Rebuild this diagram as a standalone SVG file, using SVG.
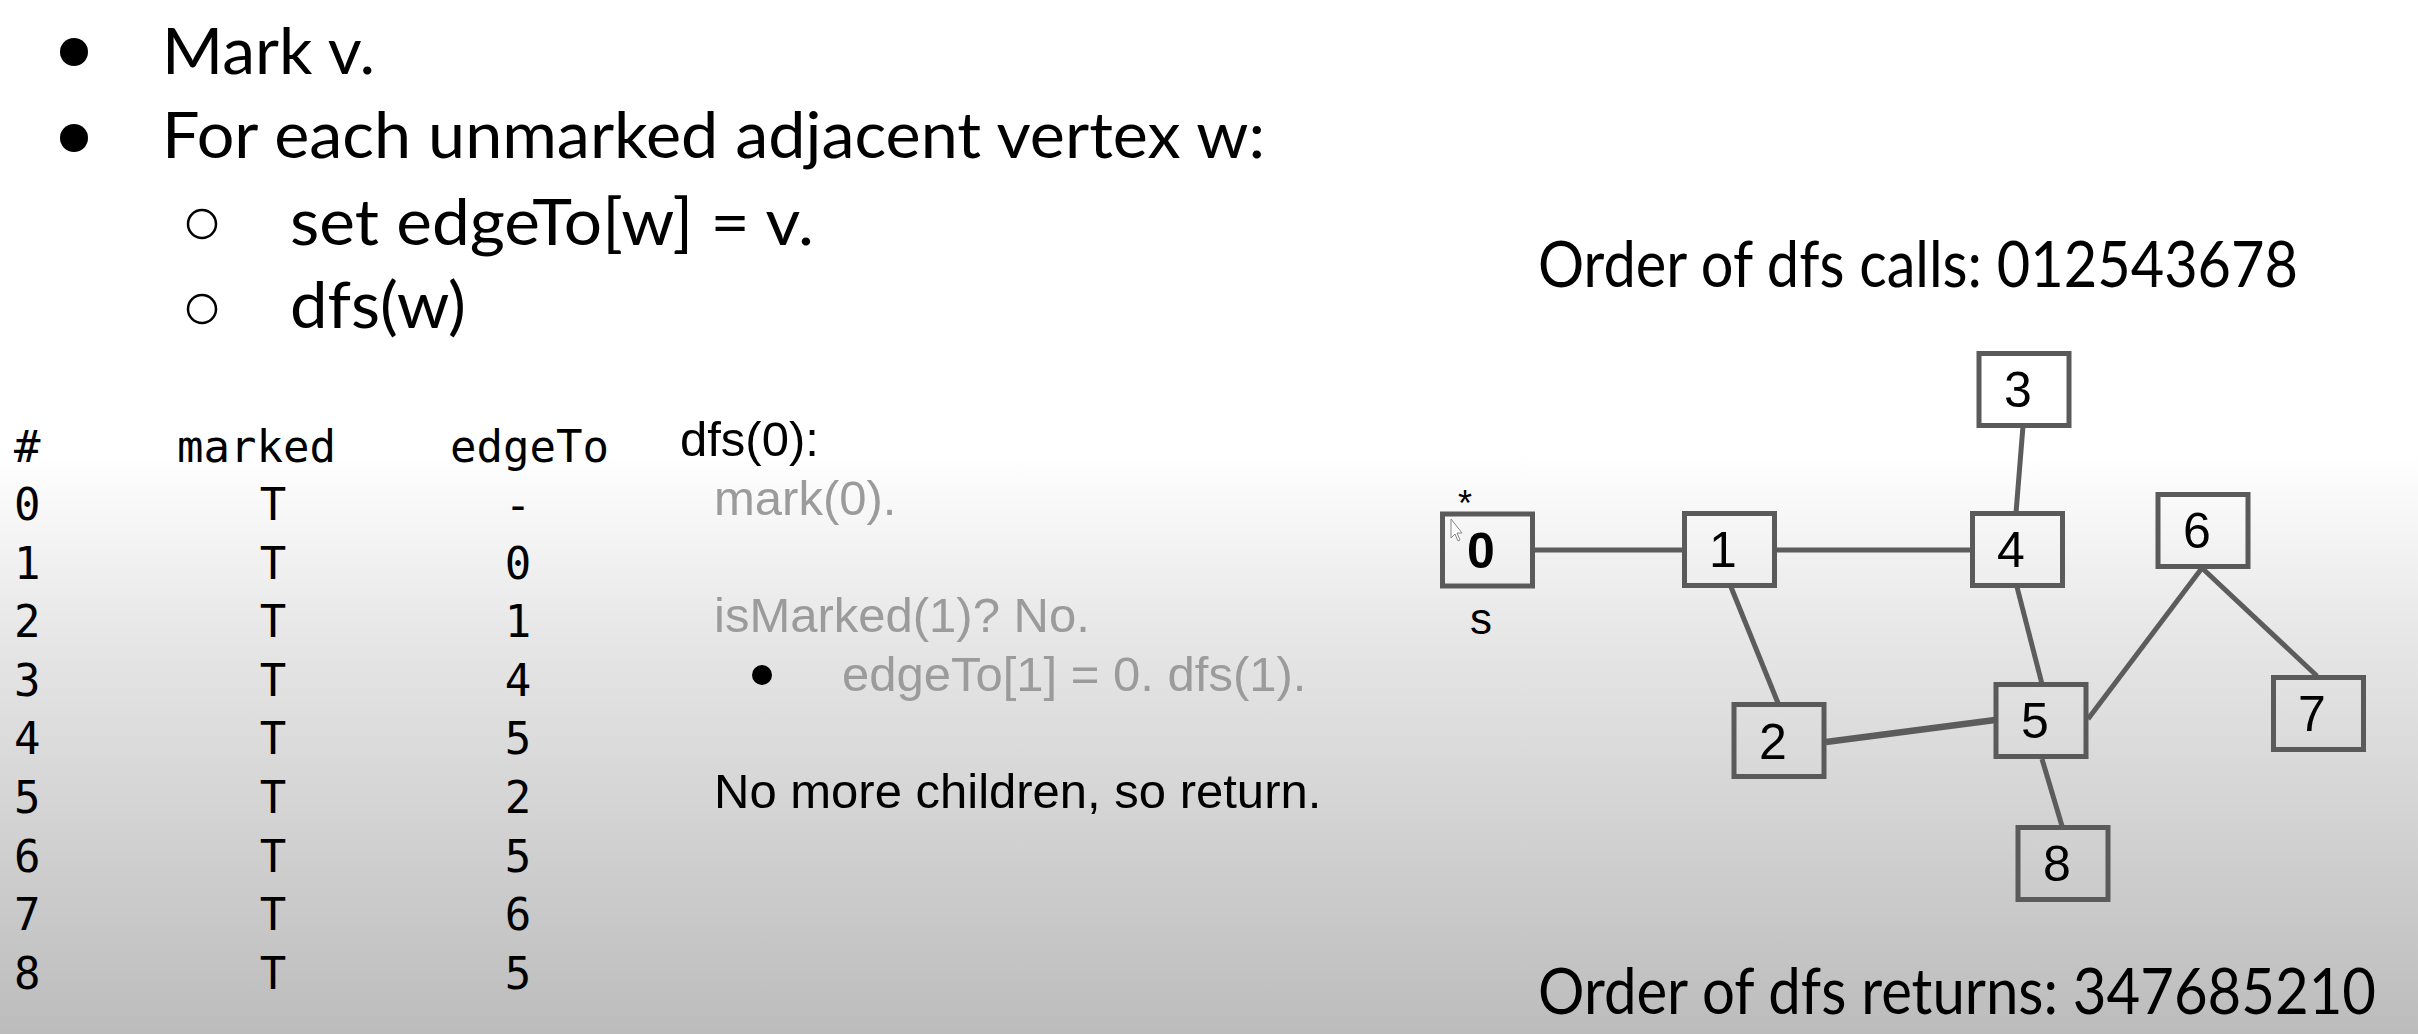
<svg xmlns="http://www.w3.org/2000/svg" width="2418" height="1034" viewBox="0 0 2418 1034">
<defs>
<linearGradient id="bg" x1="0" y1="0" x2="0" y2="1">
<stop offset="0" stop-color="#ffffff"/>
<stop offset="0.44" stop-color="#ffffff"/>
<stop offset="0.62" stop-color="#e6e6e6"/>
<stop offset="1" stop-color="#bcbcbc"/>
</linearGradient>
<style>
.cal{font-family:Lato,"Open Sans","Liberation Sans",sans-serif;font-size:63px;fill:#000}
.mono{font-family:"DejaVu Sans Mono","Liberation Mono",monospace;font-size:44px;fill:#000}
.ar{font-family:"Liberation Sans",Arial,sans-serif;font-size:49px}
.blk{fill:#000}
.gry{fill:#9b9b9b}
.box{fill:none;stroke:#5a5a5a;stroke-width:5}
.lbl{font-family:"Liberation Sans",Arial,sans-serif;font-size:50px;fill:#000;text-anchor:middle}
.edge{stroke:#5c5c5c;stroke-width:5;fill:none}
.mid{text-anchor:middle}
</style>
</defs>
<rect x="0" y="0" width="2418" height="1034" fill="url(#bg)"/>

<g id="pseudocode">
<circle cx="74" cy="52" r="14" fill="#000"/>
<text class="cal" x="162" y="74" textLength="213" lengthAdjust="spacingAndGlyphs">Mark v.</text>
<circle cx="74" cy="138" r="14" fill="#000"/>
<text class="cal" x="162" y="158" textLength="1103" lengthAdjust="spacingAndGlyphs">For each unmarked adjacent vertex w:</text>
<circle cx="202" cy="224" r="14" fill="none" stroke="#000" stroke-width="2.5"/>
<text class="cal" x="290" y="245" textLength="524" lengthAdjust="spacingAndGlyphs">set edgeTo[w] = v.</text>
<circle cx="202" cy="309" r="14" fill="none" stroke="#000" stroke-width="2.5"/>
<text class="cal" x="290" y="328" textLength="176" lengthAdjust="spacingAndGlyphs">dfs(w)</text>
</g>

<g id="table" class="mono">
<text x="14" y="462">#</text>
<text x="177" y="462">marked</text>
<text x="450" y="462">edgeTo</text>
<g>
<text x="14" y="520">0</text><text x="273" y="520" class="mid">T</text><text x="518" y="520" class="mid">-</text>
<text x="14" y="578.6">1</text><text x="273" y="578.6" class="mid">T</text><text x="518" y="578.6" class="mid">0</text>
<text x="14" y="637.2">2</text><text x="273" y="637.2" class="mid">T</text><text x="518" y="637.2" class="mid">1</text>
<text x="14" y="695.8">3</text><text x="273" y="695.8" class="mid">T</text><text x="518" y="695.8" class="mid">4</text>
<text x="14" y="754.4">4</text><text x="273" y="754.4" class="mid">T</text><text x="518" y="754.4" class="mid">5</text>
<text x="14" y="813">5</text><text x="273" y="813" class="mid">T</text><text x="518" y="813" class="mid">2</text>
<text x="14" y="871.6">6</text><text x="273" y="871.6" class="mid">T</text><text x="518" y="871.6" class="mid">5</text>
<text x="14" y="930.2">7</text><text x="273" y="930.2" class="mid">T</text><text x="518" y="930.2" class="mid">6</text>
<text x="14" y="988.8">8</text><text x="273" y="988.8" class="mid">T</text><text x="518" y="988.8" class="mid">5</text>
</g>
</g>

<g id="trace" class="ar">
<text x="680" y="456" class="blk">dfs(0):</text>
<text x="714" y="515" class="gry">mark(0).</text>
<text x="714" y="632" class="gry">isMarked(1)? No.</text>
<circle cx="762" cy="675" r="10" fill="#000"/>
<text x="842" y="691" class="gry">edgeTo[1] = 0. dfs(1).</text>
<text x="714" y="808" class="blk">No more children, so return.</text>
</g>

<g id="orders" class="cal">
<text x="1538" y="287" textLength="760" lengthAdjust="spacingAndGlyphs">Order of dfs calls: 012543678</text>
<text x="1538" y="1014" textLength="838" lengthAdjust="spacingAndGlyphs">Order of dfs returns: 347685210</text>
</g>

<g id="connectors">
<line class="edge" x1="1533" y1="550" x2="1684" y2="550"/>
<line class="edge" x1="1775" y1="550" x2="1973" y2="550"/>
<line class="edge" x1="2023" y1="426" x2="2016" y2="513"/>
<line class="edge" x1="1731" y1="587" x2="1778" y2="703"/>
<line class="edge" x1="2017" y1="587" x2="2042" y2="684"/>
<line class="edge" x1="1826" y1="742" x2="1995" y2="720" style="stroke-width:6.5"/>
<line class="edge" x1="2088" y1="719" x2="2202" y2="568"/>
<line class="edge" x1="2202" y1="568" x2="2317" y2="676"/>
<line class="edge" x1="2042" y1="759" x2="2062" y2="826"/>
</g>

<g id="node0">
<rect class="box" x="1442.5" y="514" width="90" height="72"/>
<text class="lbl" x="1481" y="568" font-weight="bold">0</text>
<text x="1465" y="516" font-family="Liberation Sans, Arial, sans-serif" font-size="36" text-anchor="middle">*</text>
<text x="1481" y="634" font-family="Liberation Sans, Arial, sans-serif" font-size="44" text-anchor="middle">s</text>
<path d="M1451 519 L1451 538 L1455 534 L1458 541 L1460 540 L1457 533 L1462 533 Z" fill="#ffffff" stroke="#888" stroke-width="1"/>
</g>
<g id="node1">
<rect class="box" x="1684.5" y="513.5" width="90" height="72"/>
<text class="lbl" x="1723" y="567">1</text>
</g>
<g id="node3">
<rect class="box" x="1979" y="353.5" width="90" height="72"/>
<text class="lbl" x="2018" y="407">3</text>
</g>
<g id="node4">
<rect class="box" x="1972.5" y="513.5" width="90" height="72"/>
<text class="lbl" x="2011" y="567">4</text>
</g>
<g id="node6">
<rect class="box" x="2158" y="494.5" width="90" height="72"/>
<text class="lbl" x="2197" y="548">6</text>
</g>
<g id="node2">
<rect class="box" x="1734" y="704.5" width="90" height="72"/>
<text class="lbl" x="1773" y="759">2</text>
</g>
<g id="node5">
<rect class="box" x="1996" y="684.5" width="90" height="72"/>
<text class="lbl" x="2035" y="738">5</text>
</g>
<g id="node7">
<rect class="box" x="2273.5" y="677.5" width="90" height="72"/>
<text class="lbl" x="2312" y="731">7</text>
</g>
<g id="node8">
<rect class="box" x="2018" y="827.5" width="90" height="72"/>
<text class="lbl" x="2057" y="881">8</text>
</g>
</svg>
